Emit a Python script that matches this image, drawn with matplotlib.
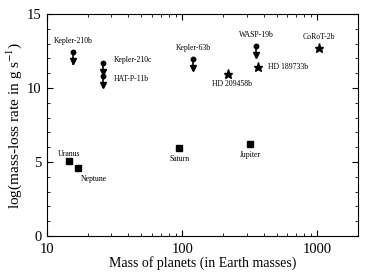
import matplotlib
matplotlib.use('Agg')
import matplotlib.pyplot as plt
from matplotlib.ticker import LogLocator, MultipleLocator, FixedFormatter, FixedLocator

plt.rcParams['font.family'] = ['Liberation Serif', 'DejaVu Serif']
plt.rcParams['mathtext.fontset'] = 'stix'

'''DATA'''
# solar system planets (squares)
ss_names = ['Uranus', 'Neptune', 'Saturn', 'Jupiter']
ss_mass = [14.5, 17.1, 95.2, 318]
ss_rate = [5.07, 4.57, 5.97, 6.2]

# upper limits (dot + down arrow)
ul_names = ['Kepler-210b', 'Kepler-210c', 'HAT-P-11b', 'Kepler-63b', 'WASP-19b']
ul_mass = [15.6, 26.0, 26.0, 120, 352]
ul_rate = [12.4, 11.67, 10.8, 11.94, 12.86]

# detections (stars)
st_names = ['HD 209458b', 'HD 189733b', 'CoRoT-2b']
st_mass = [218, 363, 1035]
st_rate = [10.95, 11.4, 12.68]

'''Plot'''
fig = plt.figure(figsize=(3.9, 2.79), dpi=100)
ax = fig.add_axes([0.1205, 0.154, 0.7975, 0.796])

ax.plot(ss_mass, ss_rate, 's', color='black', markersize=4.5, linestyle='none')
ax.plot(st_mass, st_rate, '*', color='black', markersize=6.5, linestyle='none')

arrow_len = 0.75
for m, r in zip(ul_mass, ul_rate):
    ax.plot([m, m], [r, r - arrow_len], color='black', linewidth=1.2)
    ax.plot(m, r, 'o', color='black', markersize=3.2)
    ax.plot(m, r - arrow_len + 0.15, 'v', color='black', markersize=5)

fs = 5.6
# label offsets in points
ss_off = [(0, 5, 'center'), (2, -8, 'left'), (0, -8, 'center'), (0, -8, 'center')]
for n, m, r, o in zip(ss_names, ss_mass, ss_rate, ss_off):
    ax.annotate(n, (m, r), xytext=o[:2], textcoords='offset points',
                ha=o[2], va='center', fontsize=fs)

ul_off = [(0, 8, 'center'), (8, 2, 'left'), (8, -2, 'left'), (0, 8, 'center'), (0, 8, 'center')]
for n, m, r, o in zip(ul_names, ul_mass, ul_rate, ul_off):
    ax.annotate(n, (m, r), xytext=o[:2], textcoords='offset points',
                ha=o[2], va='center', fontsize=fs)

st_off = [(3, -7, 'center'), (7, 0, 'left'), (0, 8, 'center')]
for n, m, r, o in zip(st_names, st_mass, st_rate, st_off):
    ax.annotate(n, (m, r), xytext=o[:2], textcoords='offset points',
                ha=o[2], va='center', fontsize=fs)

ax.set_xscale('log')
ax.set_xlim(10, 2000)
ax.set_ylim(0, 15)
ax.xaxis.set_major_locator(FixedLocator([10, 100, 1000]))
ax.xaxis.set_major_formatter(FixedFormatter(['10', '100', '1000']))
ax.xaxis.set_minor_locator(LogLocator(base=10, subs=range(2, 10)))
ax.yaxis.set_major_locator(MultipleLocator(5))
ax.yaxis.set_minor_locator(MultipleLocator(1))

ax.tick_params(which='both', direction='in', top=True, right=True, labelsize=10.5)
ax.tick_params(which='major', length=4, width=0.8)
ax.tick_params(which='minor', length=2, width=0.6)
ax.tick_params(axis='x', which='major', pad=5)
ax.tick_params(axis='y', which='major', pad=4)
ax.tick_params(axis='x', which='minor', labelbottom=False)

ax.set_xlabel('Mass of planets (in Earth masses)', fontsize=10, labelpad=0)
ax.set_ylabel(r'log(mass-loss rate in g s$^{-1}$)', fontsize=11, labelpad=2)

fig.savefig('out.png', dpi=100)
